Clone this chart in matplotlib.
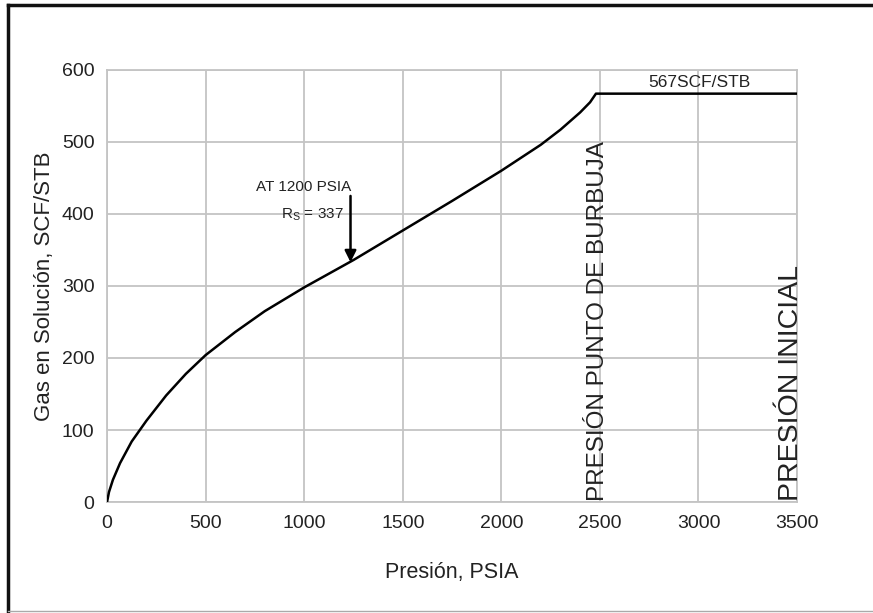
import numpy as np
import matplotlib
matplotlib.use("Agg")
import matplotlib.pyplot as plt
from matplotlib.lines import Line2D

plt.rcParams['font.family'] = ['Liberation Sans', 'DejaVu Sans']

# solution gas-oil ratio curve
pressure = [0, 10, 30, 66, 125, 200, 300, 400, 500, 650, 800, 1000, 1250,
            1500, 1750, 2000, 2200, 2300, 2400, 2450, 2480, 3500]
rs = [0, 14, 31, 54, 84, 113, 148, 178, 204, 236, 265, 298, 336,
      377, 418, 460, 496, 517, 541, 555, 567, 567]

x_ticks = [0, 500, 1000, 1500, 2000, 2500, 3000, 3500]
y_ticks = [0, 100, 200, 300, 400, 500, 600]

bubble_p = 2500
initial_p = 3500
note_p = 1200
note_rs = 337

fig = plt.figure(figsize=(8.73, 6.13), dpi=100)
ax = fig.add_axes([0.1226, 0.181, 0.7904, 0.705])

ax.plot(pressure, rs, color='black', lw=1.8, solid_joinstyle='round', zorder=3)

ax.set_xlim(0, 3500)
ax.set_ylim(0, 600)
ax.set_xticks(x_ticks)
ax.set_yticks(y_ticks)
ax.tick_params(length=0, labelsize=14, colors='#222222')
ax.tick_params(axis='x', pad=9)
ax.tick_params(axis='y', pad=9)
ax.grid(color='#c4c4c4', lw=1.3)
for s in ax.spines.values():
    s.set_color('#c4c4c4')
    s.set_linewidth(1.3)

ax.set_xlabel('Presión, PSIA', fontsize=15.5, color='#222222', labelpad=22)
ax.set_ylabel('Gas en Solución, SCF/STB', fontsize=16, color='#222222', labelpad=5)

# annotation at 1200 psia
ax.annotate('', xy=(note_p + 35, note_rs - 4), xytext=(note_p + 35, 425),
            arrowprops=dict(arrowstyle='-|>', color='black', lw=1.8,
                            mutation_scale=17, shrinkA=0, shrinkB=0), zorder=4)
ax.text(note_p + 40, 437, 'AT 1200 PSIA', ha='right', va='center', fontsize=11,
        color='#222222')
ax.text(note_p - 160, 399, r'R$_\mathregular{S}$ = 337', ha='center', va='center',
        fontsize=11, color='#222222')

ax.text(3005, 582, '567SCF/STB', ha='center', va='center', fontsize=12.5,
        color='#222222')

ax.text(bubble_p - 12, 2, 'PRESIÓN PUNTO DE BURBUJA', rotation=90, ha='center',
        va='bottom', fontsize=17.5, color='#222222')
ax.text(initial_p - 30, 2, 'PRESIÓN INICIAL', rotation=90, ha='center',
        va='bottom', fontsize=20.5, color='#222222')

# picture frame
fig.add_artist(Line2D([0.009, 0.009], [0.0, 0.992], transform=fig.transFigure,
                      color='#111111', lw=2.5))
fig.add_artist(Line2D([0.009, 1.0], [0.992, 0.992], transform=fig.transFigure,
                      color='#111111', lw=2.5))
fig.add_artist(Line2D([0.009, 1.0], [0.003, 0.003], transform=fig.transFigure,
                      color='#aaaaaa', lw=1))

fig.savefig('out.png', dpi=100)
